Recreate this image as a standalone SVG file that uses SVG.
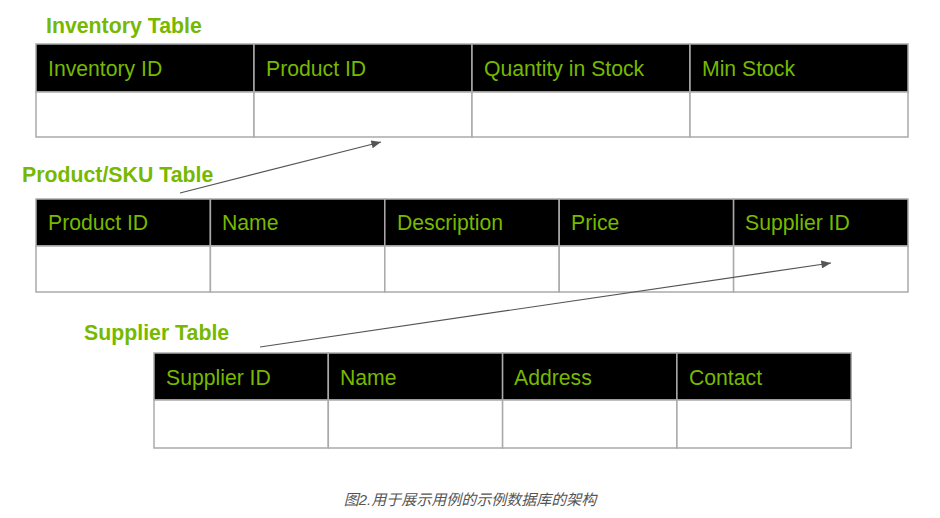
<svg xmlns="http://www.w3.org/2000/svg" width="940" height="518" viewBox="0 0 940 518">
<defs>
<marker id="ah" viewBox="0 0 12 10" refX="12" refY="5" markerWidth="12" markerHeight="8" markerUnits="userSpaceOnUse" orient="auto"><path d="M0,0 L12,5 L0,10 z" fill="#555"/></marker>
</defs>
<style>
.title{font-family:"Liberation Sans",Arial,sans-serif;font-weight:bold;font-size:21.3px;fill:#76b900}
.hd{font-family:"Liberation Sans",Arial,sans-serif;font-size:21.2px;fill:#76b900}
.hbg{fill:#000;stroke:#aaa;stroke-width:1.5}
.cell{fill:#fff;stroke:#aaa;stroke-width:1.5}
.conn{stroke:#555;stroke-width:1.2;fill:none;marker-end:url(#ah)}
.cap{font-family:"Liberation Sans","Noto Sans CJK SC",sans-serif;font-size:15px;font-style:italic;fill:#555}
</style>
<rect width="940" height="518" fill="#fff"/>
<g id="inventory">
<text class="title" x="46" y="33">Inventory Table</text>
<rect class="hbg" x="36" y="44" width="218" height="48"/><rect class="hbg" x="254" y="44" width="218" height="48"/><rect class="hbg" x="472" y="44" width="218" height="48"/><rect class="hbg" x="690" y="44" width="218" height="48"/>
<rect class="cell" x="36" y="92" width="218" height="45"/><rect class="cell" x="254" y="92" width="218" height="45"/><rect class="cell" x="472" y="92" width="218" height="45"/><rect class="cell" x="690" y="92" width="218" height="45"/>
<text class="hd" x="48" y="76">Inventory ID</text><text class="hd" x="266" y="76">Product ID</text><text class="hd" x="484" y="76">Quantity in Stock</text><text class="hd" x="702" y="76">Min Stock</text>
</g>
<g id="product">
<text class="title" x="22" y="182">Product/SKU Table</text>
<rect class="hbg" x="36" y="199" width="174.4" height="47"/><rect class="hbg" x="210.4" y="199" width="174.4" height="47"/><rect class="hbg" x="384.8" y="199" width="174.4" height="47"/><rect class="hbg" x="559.2" y="199" width="174.4" height="47"/><rect class="hbg" x="733.6" y="199" width="174.4" height="47"/>
<rect class="cell" x="36" y="246" width="174.4" height="46"/><rect class="cell" x="210.4" y="246" width="174.4" height="46"/><rect class="cell" x="384.8" y="246" width="174.4" height="46"/><rect class="cell" x="559.2" y="246" width="174.4" height="46"/><rect class="cell" x="733.6" y="246" width="174.4" height="46"/>
<text class="hd" x="48" y="230">Product ID</text><text class="hd" x="222" y="230">Name</text><text class="hd" x="397" y="230">Description</text><text class="hd" x="571" y="230">Price</text><text class="hd" x="745" y="230">Supplier ID</text>
</g>
<g id="supplier">
<text class="title" x="84" y="340">Supplier Table</text>
<rect class="hbg" x="154" y="353" width="174.3" height="47"/><rect class="hbg" x="328.3" y="353" width="174.3" height="47"/><rect class="hbg" x="502.6" y="353" width="174.3" height="47"/><rect class="hbg" x="676.9" y="353" width="174.3" height="47"/>
<rect class="cell" x="154" y="400" width="174.3" height="48"/><rect class="cell" x="328.3" y="400" width="174.3" height="48"/><rect class="cell" x="502.6" y="400" width="174.3" height="48"/><rect class="cell" x="676.9" y="400" width="174.3" height="48"/>
<text class="hd" x="166" y="385">Supplier ID</text><text class="hd" x="340" y="385">Name</text><text class="hd" x="514" y="385">Address</text><text class="hd" x="689" y="385">Contact</text>
</g>
<g id="connectors">
<line class="conn" x1="180" y1="193" x2="381" y2="142"/>
<line class="conn" x1="260" y1="347" x2="831" y2="263"/>
</g>
<text class="cap" x="470" y="505" text-anchor="middle">图2.用于展示用例的示例数据库的架构</text>
</svg>
